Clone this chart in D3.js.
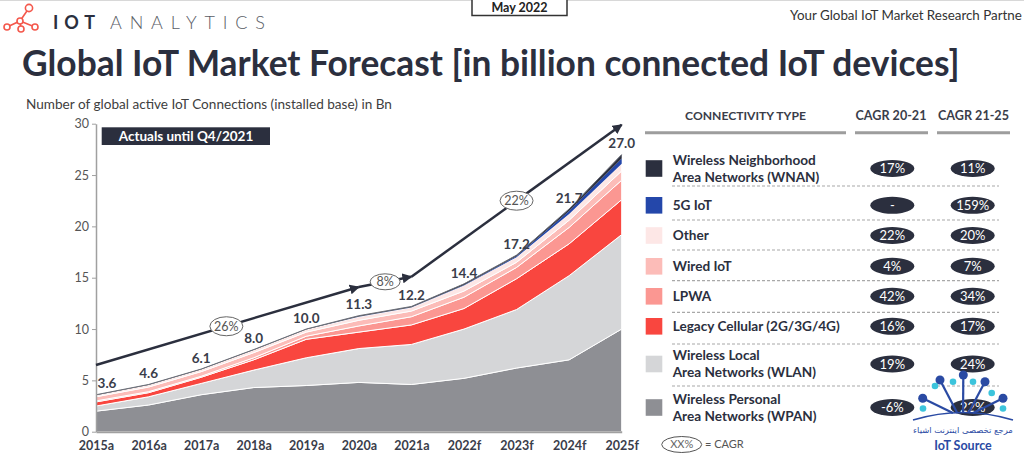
<!DOCTYPE html>
<html>
<head>
<meta charset="utf-8">
<script src="https://cdn.jsdelivr.net/npm/d3@7"></script>
<style>
  html, body { margin: 0; padding: 0; background: #fff; }
  svg { display: block; font-family: Lato, "Open Sans", sans-serif; }
</style>
</head>
<body>
<div id="chart"></div>
<script>
// years on the x axis
var years = ["2015a", "2016a", "2017a", "2018a", "2019a", "2020a", "2021a", "2022f", "2023f", "2024f", "2025f"];
// total labels above the stack
var totals = [3.6, 4.6, 6.1, 8.0, 10.0, 11.3, 12.2, 14.4, 17.2, 21.7, 27.0];
// stacked series, bottom to top (billion connections)
var wpan   = [2.0, 2.6, 3.6, 4.3, 4.5, 4.8, 4.6, 5.2, 6.2, 7.0, 10.0];
var wlan   = [0.5, 0.8, 1.1, 1.7, 2.7, 3.3, 3.9, 4.8, 5.7, 8.2, 9.2];
var legacy = [0.4, 0.4, 0.6, 1.0, 1.8, 1.6, 1.9, 2.0, 3.0, 3.1, 3.4];
var lpwa   = [0.1, 0.1, 0.1, 0.2, 0.3, 0.6, 0.8, 1.1, 1.1, 1.6, 1.9];
var wired  = [0.4, 0.45, 0.45, 0.5, 0.4, 0.55, 0.55, 0.6, 0.5, 0.7, 0.9];
var other  = [0.15, 0.2, 0.2, 0.25, 0.25, 0.35, 0.35, 0.55, 0.5, 0.6, 0.7];
var fiveG  = [0, 0, 0, 0, 0, 0.01, 0.02, 0.05, 0.1, 0.3, 0.5];
var wnan   = [0.05, 0.05, 0.05, 0.05, 0.05, 0.09, 0.08, 0.1, 0.1, 0.2, 0.4];

// CAGR arrows: [from index, from value] -> [to index, to value], label on the line
var cagrFrom  = [[0, 6.5], [5, 14.1], [6, 15.1]];
var cagrTo    = [[5, 14.1], [6, 15.1], [10, 29.9]];
var cagrLabel = ["26%", "8%", "22%"];
var cagrAt    = [[2.48, 10.27], [5.5, 14.6], [8.0, 22.5]];

// table on the right
var typeNames = [
  ["Wireless Neighborhood", "Area Networks (WNAN)"],
  ["5G IoT"],
  ["Other"],
  ["Wired IoT"],
  ["LPWA"],
  ["Legacy Cellular (2G/3G/4G)"],
  ["Wireless Local", "Area Networks (WLAN)"],
  ["Wireless Personal", "Area Networks (WPAN)"]
];
var cagr2021 = ["17%", "-", "22%", "4%", "42%", "16%", "19%", "-6%"];
var cagr2125 = ["11%", "159%", "20%", "7%", "34%", "17%", "24%", "22%"];

var keys = ["wpan", "wlan", "legacy", "lpwa", "wired", "other", "fiveG", "wnan"];
var colors = {
  wpan: "#8e8f94", wlan: "#d5d6d8", legacy: "#f9463f", lpwa: "#fb9792",
  wired: "#fcbcb8", other: "#fde7e6", fiveG: "#2447aa", wnan: "#2b2f3e"
};
// table rows are listed top to bottom
var rowKeys = ["wnan", "fiveG", "other", "wired", "lpwa", "legacy", "wlan", "wpan"];

var dark = "#2b2f3e";
var w = 1024, h = 459;

var rows = years.map(function(y, i) {
  return { year: y, wpan: wpan[i], wlan: wlan[i], legacy: legacy[i], lpwa: lpwa[i],
           wired: wired[i], other: other[i], fiveG: fiveG[i], wnan: wnan[i] };
});
var series = d3.stack().keys(keys)(rows);

var svg = d3.select("#chart").append("svg").attr("width", w).attr("height", h);

// fit a text node's width by changing font size
function fitWidth(sel, target) {
  var size = parseFloat(sel.style("font-size"));
  var len = sel.node().getComputedTextLength();
  sel.style("font-size", (size * target / len).toFixed(2) + "px");
  return sel;
}

// ---------- header ----------
svg.append("line").attr("x1", 0).attr("x2", w).attr("y1", 0.5).attr("y2", 0.5)
  .attr("stroke", "#d8d8d8");

// logo
var logo = svg.append("g").attr("stroke", "#f4584c").attr("fill", "#fff").attr("stroke-width", 1.6);
var lp = [[7, 27], [20, 21], [21, 29], [29, 8], [35, 27]];
logo.append("path").attr("fill", "none")
  .attr("d", "M7,27 L20,21 L29,8 M20,21 L35,27 M20,21 L21,29");
lp.forEach(function(p, i) {
  logo.append("circle").attr("cx", p[0]).attr("cy", p[1]).attr("r", i === 3 ? 3.6 : 3);
});
svg.append("text").attr("x", 53).attr("y", 28.5).text("IOT")
  .style("font-size", "18px").style("font-weight", 700).attr("fill", dark)
  .attr("textLength", 42).attr("lengthAdjust", "spacing");
svg.append("text").attr("x", 110).attr("y", 28.5).text("ANALYTICS")
  .style("font-size", "18px").style("font-weight", 300).attr("fill", "#5a5d66")
  .attr("textLength", 155).attr("lengthAdjust", "spacing");

svg.append("rect").attr("x", 472).attr("y", -2).attr("width", 95).attr("height", 17.5)
  .attr("fill", "#fff").attr("stroke", "#333").attr("stroke-width", 1.5);
svg.append("text").attr("x", 519.5).attr("y", 11.5).attr("text-anchor", "middle")
  .text("May 2022").style("font-size", "12.5px").style("font-weight", 700).attr("fill", "#222");

var tag = svg.append("text").attr("x", 790).attr("y", 19.5).text("Your Global IoT Market Research Partne")
  .style("font-size", "13px").attr("fill", "#333");
fitWidth(tag, 232);

var title = svg.append("text").attr("x", 22).attr("y", 76)
  .text("Global IoT Market Forecast [in billion connected IoT devices]")
  .style("font-size", "36px").style("font-weight", 700).attr("fill", dark);
fitWidth(title, 938);

var sub = svg.append("text").attr("x", 26).attr("y", 108.5)
  .text("Number of global active IoT Connections (installed base) in Bn")
  .style("font-size", "13px").attr("fill", "#404040");
fitWidth(sub, 366);

// ---------- chart ----------
var xScale = d3.scalePoint().domain(years).range([96, 621.7]);
var yScale = d3.scaleLinear().domain([0, 30]).range([431.7, 123.7]);
var xAt = function(t) { return 96 + t * (621.7 - 96) / (years.length - 1); };

var area = d3.area()
  .x(function(d) { return xScale(d.data.year); })
  .y0(function(d) { return yScale(d[0]); })
  .y1(function(d) { return yScale(d[1]); });

svg.append("g").selectAll("path")
  .data(series)
  .enter()
  .append("path")
  .attr("d", area)
  .attr("fill", function(d) { return colors[d.key]; })
  .attr("stroke", function(d) { return (d.key === "fiveG" || d.key === "wnan") ? "none" : "#fff"; })
  .attr("stroke-width", 1);

// thin outline on top of the stack
svg.append("path")
  .datum(series[series.length - 1])
  .attr("d", d3.line().x(function(d) { return xScale(d.data.year); }).y(function(d) { return yScale(d[1]); }))
  .attr("fill", "none").attr("stroke", "#6c6f78").attr("stroke-width", 1);

// axes
var yAxis = d3.axisLeft(yScale).tickValues([0, 5, 10, 15, 20, 25, 30]).tickSize(4).tickSizeOuter(0).tickPadding(3);
var gy = svg.append("g").attr("transform", "translate(96,0)").call(yAxis);
gy.select(".domain").attr("stroke", "#a0a0a0").attr("stroke-width", 1.5);
gy.selectAll(".tick line").attr("stroke", "#a0a0a0");
gy.selectAll(".tick text").style("font-size", "12.5px").style("font-family", "Lato, sans-serif").attr("fill", "#555");

var xAxis = d3.axisBottom(xScale).tickSize(0).tickPadding(9);
var gx = svg.append("g").attr("transform", "translate(0,431.7)").call(xAxis);
gx.select(".domain").attr("stroke", "#a0a0a0").attr("stroke-width", 2);
gx.selectAll(".tick text").style("font-size", "12.5px").style("font-weight", 700)
  .style("font-family", "Lato, sans-serif").attr("fill", "#3a3d4a");

// total labels
svg.append("g").selectAll("text")
  .data(totals)
  .enter()
  .append("text")
  .attr("x", function(d, i) { return xScale(years[i]) + (i === 0 ? 11 : 0); })
  .attr("y", function(d) { return yScale(d) - 11; })
  .attr("dy", "0.35em")
  .attr("text-anchor", "middle")
  .text(function(d) { return d.toFixed(1); })
  .style("font-size", "13.5px").style("font-weight", 700).attr("fill", "#3a3d4a");

// actuals box
svg.append("rect").attr("x", 101.7).attr("y", 127.3).attr("width", 168.3).attr("height", 17.7).attr("fill", dark);
svg.append("text").attr("x", 186).attr("y", 136.3).attr("dy", "0.35em").attr("text-anchor", "middle")
  .text("Actuals until Q4/2021").style("font-size", "13.5px").style("font-weight", 700).attr("fill", "#fff");

// CAGR arrows
svg.append("defs").append("marker")
  .attr("id", "arrow").attr("viewBox", "0 0 10 10").attr("refX", 9).attr("refY", 5)
  .attr("markerWidth", 4).attr("markerHeight", 4).attr("orient", "auto")
  .append("path").attr("d", "M0,0 L10,5 L0,10 z").attr("fill", dark);

cagrFrom.forEach(function(f, i) {
  var t = cagrTo[i];
  svg.append("line")
    .attr("x1", xAt(f[0])).attr("y1", yScale(f[1]))
    .attr("x2", xAt(t[0])).attr("y2", yScale(t[1]))
    .attr("stroke", dark).attr("stroke-width", 2.5)
    .attr("marker-end", "url(#arrow)");
});
cagrAt.forEach(function(p, i) {
  var cx = xAt(p[0]), cy = yScale(p[1]);
  var rx = i === 1 ? 15 : 16.5, ry = i === 1 ? 8 : 9.5;
  svg.append("ellipse").attr("cx", cx).attr("cy", cy).attr("rx", rx).attr("ry", ry)
    .attr("fill", "#fff").attr("stroke", "#666").attr("stroke-width", 1);
  svg.append("text").attr("x", cx).attr("y", cy).attr("dy", "0.35em").attr("text-anchor", "middle")
    .text(cagrLabel[i]).style("font-size", "12.5px").attr("fill", "#555");
});

// ---------- right table ----------
var hdr = [["CONNECTIVITY TYPE", 745.5, 121], ["CAGR 20-21", 891, 71], ["CAGR 21-25", 973.5, 71]];
hdr.forEach(function(hd) {
  var t = svg.append("text").attr("x", hd[1]).attr("y", 119.5).attr("text-anchor", "middle")
    .text(hd[0]).style("font-size", "12.5px").style("font-weight", 700).attr("fill", "#3a3d4a");
  fitWidth(t, hd[2]);
});
[[645, 846], [855, 928], [937, 1010]].forEach(function(s) {
  svg.append("line").attr("x1", s[0]).attr("x2", s[1]).attr("y1", 132.7).attr("y2", 132.7)
    .attr("stroke", "#9d9d9d").attr("stroke-width", 3);
});

var rowY = [168.5, 205.3, 235.5, 266.3, 296.3, 326.3, 364, 407.5];
var sepY = [186, 220, 250, 280.7, 312.3, 344, 386];

sepY.forEach(function(y) {
  svg.append("line").attr("x1", 672).attr("x2", 999).attr("y1", y).attr("y2", y)
    .attr("stroke", "#a8a8a8").attr("stroke-width", 1.2).attr("stroke-dasharray", "3,2");
});

rowKeys.forEach(function(k, i) {
  var cy = rowY[i];
  svg.append("rect").attr("x", 645.7).attr("y", cy - 8.3).attr("width", 16.6).attr("height", 16.6)
    .attr("fill", colors[k]);
  var lines = typeNames[i];
  lines.forEach(function(s, j) {
    var ty = lines.length === 1 ? cy : cy + (j === 0 ? -8.5 : 8.5);
    svg.append("text").attr("x", 672.7).attr("y", ty).attr("dy", "0.35em")
      .text(s).style("font-size", "13.6px").style("font-weight", 700).attr("fill", dark);
  });
  [[892.3, cagr2021[i]], [972.7, cagr2125[i]]].forEach(function(p) {
    svg.append("ellipse").attr("cx", p[0]).attr("cy", cy).attr("rx", 22).attr("ry", 8.5).attr("fill", dark);
    svg.append("text").attr("x", p[0]).attr("y", cy).attr("dy", "0.35em").attr("text-anchor", "middle")
      .text(p[1]).style("font-size", "13px").attr("fill", "#fff");
  });
});

// CAGR legend
svg.append("ellipse").attr("cx", 681.7).attr("cy", 444.5).attr("rx", 20).attr("ry", 8)
  .attr("fill", "#fff").attr("stroke", "#555").attr("stroke-width", 1);
svg.append("text").attr("x", 681.7).attr("y", 444.5).attr("dy", "0.35em").attr("text-anchor", "middle")
  .text("XX%").style("font-size", "11px").attr("fill", "#666");
svg.append("text").attr("x", 705).attr("y", 444.5).attr("dy", "0.35em")
  .text("= CAGR").style("font-size", "11px").attr("fill", "#555");

// ---------- watermark ----------
var wm = svg.append("g");
var wc = [963, 416];
var blue = [[922.7, 398.3], [940, 380], [963.3, 375], [985, 381.7], [1003, 398.3]];
var cyan = [[935, 386], [953, 381.7], [973, 381.7], [991.7, 393], [923, 408.5], [1003, 408.5]];
blue.forEach(function(p) {
  wm.append("line").attr("x1", p[0]).attr("y1", p[1]).attr("x2", wc[0] + (p[0] - wc[0]) * 0.25).attr("y2", wc[1] - 3)
    .attr("stroke", "#2a4aa3").attr("stroke-width", 2.2);
  wm.append("circle").attr("cx", p[0]).attr("cy", p[1]).attr("r", 4.5).attr("fill", "#2a4aa3");
});
cyan.forEach(function(p) {
  wm.append("circle").attr("cx", p[0]).attr("cy", p[1]).attr("r", 3.3).attr("fill", "#3cc4dc");
});
wm.append("path").attr("d", "M913,420 Q963,405 1013,420").attr("fill", "none")
  .attr("stroke", "#2a4aa3").attr("stroke-width", 1.6);
var ar = wm.append("text").attr("x", 963).attr("y", 430).attr("dy", "0.35em").attr("text-anchor", "middle")
  .text("مرجع تخصصی اینترنت اشیاء").style("font-size", "11px").style("font-family", "'DejaVu Sans', sans-serif")
  .attr("fill", "#2a4aa3");
fitWidth(ar, 100);
wm.append("text").attr("x", 963).attr("y", 445.5).attr("dy", "0.35em").attr("text-anchor", "middle")
  .text("IoT Source").style("font-size", "12.5px").style("font-weight", 700).attr("fill", "#2a4aa3");
</script>
</body>
</html>
